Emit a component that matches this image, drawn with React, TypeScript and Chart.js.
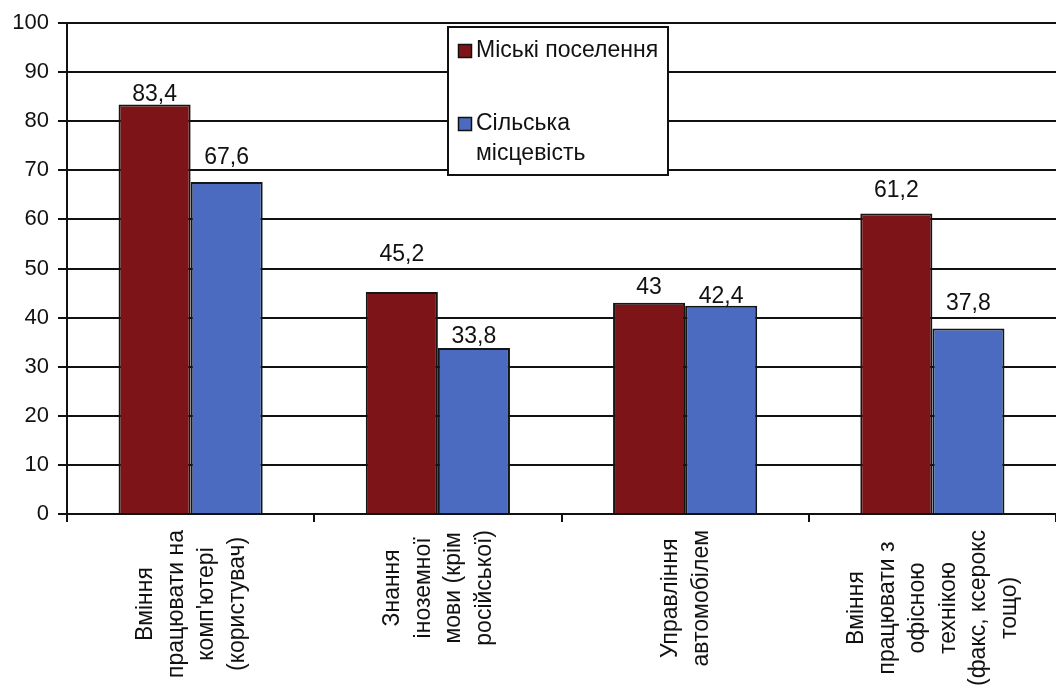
import React, { useEffect, useRef } from "react";
import { Chart, registerables } from "chart.js";

Chart.register(...registerables);

const categories: string[][] = [
  ["Вміння", "працювати на", "комп'ютері", "(користувач)"],
  ["Знання", "іноземної", "мови (крім", "російської)"],
  ["Управління", "автомобілем"],
  ["Вміння", "працювати з", "офісною", "технікою", "(факс, ксерокс", "тощо)"],
];
const seriesNames = ["Міські поселення", "Сільська місцевість"];
const urbanValues = [83.4, 45.2, 43, 61.2];
const ruralValues = [67.6, 33.8, 42.4, 37.8];
const yTicks = [0, 10, 20, 30, 40, 50, 60, 70, 80, 90, 100];

// label offset above bar top (px) — style only
const urbanLabelLift = [10, 37, 15, 23];
const ruralLabelLift = [24, 11, 9, 25];

const RED = "#7d1417";
const BLUE = "#4a6bbf";
const FONT = "'Liberation Sans', Arial, sans-serif";
const INK = "#111";

const fmt = (v: number) => String(v).replace(".", ",");

const overlayPlugin = {
  id: "overlay",
  afterDraw(chart: any) {
    const ctx: CanvasRenderingContext2D = chart.ctx;
    const xScale = chart.scales.x;
    const area = chart.chartArea;
    ctx.save();
    ctx.fillStyle = INK;

    // data labels
    ctx.font = `23px ${FONT}`;
    const lifts = [urbanLabelLift, ruralLabelLift];
    chart.data.datasets.forEach((ds: any, di: number) => {
      const meta = chart.getDatasetMeta(di);
      meta.data.forEach((el: any, i: number) => {
        ctx.textAlign = "center";
        ctx.textBaseline = "middle";
        ctx.fillText(fmt(ds.data[i]), el.x, el.y - lifts[di][i]);
      });
    });

    // category labels (rotated, centered lines)
    ctx.font = `23px ${FONT}`;
    const lineGap = 30.5;
    categories.forEach((lines, i) => {
      const cx0 = xScale.getPixelForValue(i);
      const maxW = Math.max(...lines.map((l) => ctx.measureText(l).width));
      const cy = area.bottom + 16 + maxW / 2;
      lines.forEach((line, j) => {
        const cx = cx0 + (j - (lines.length - 1) / 2) * lineGap + 1;
        ctx.save();
        ctx.translate(cx, cy);
        ctx.rotate(-Math.PI / 2);
        ctx.textAlign = "center";
        ctx.textBaseline = "middle";
        ctx.fillText(line, 0, 0);
        ctx.restore();
      });
    });

    // legend
    const lx = 448, ly = 27, lw = 220, lh = 148;
    ctx.fillStyle = "#fff";
    ctx.fillRect(lx, ly, lw, lh);
    ctx.strokeStyle = INK;
    ctx.lineWidth = 2;
    ctx.strokeRect(lx, ly, lw, lh);
    const items = [
      { color: RED, lines: [seriesNames[0]], y: 51 },
      { color: BLUE, lines: ["Сільська", "місцевість"], y: 124 },
    ];
    items.forEach((it) => {
      ctx.fillStyle = it.color;
      ctx.fillRect(lx + 10, it.y - 7, 14, 14);
      ctx.lineWidth = 1.5;
      ctx.strokeStyle = INK;
      ctx.strokeRect(lx + 10.5, it.y - 6.5, 13, 13);
      ctx.fillStyle = INK;
      ctx.textAlign = "left";
      ctx.textBaseline = "middle";
      it.lines.forEach((l, k) => ctx.fillText(l, lx + 28, it.y + k * 30));
    });
    ctx.restore();
  },
};

export default function App() {
  const ref = useRef<HTMLCanvasElement>(null);
  useEffect(() => {
    document.body.style.margin = "0";
    const chart = new Chart(ref.current!, {
      type: "bar",
      data: {
        labels: categories.map((c) => c.join(" ")),
        datasets: [
          {
            label: seriesNames[0],
            data: urbanValues,
            backgroundColor: RED,
            borderColor: "#151515",
            borderWidth: 2,
            categoryPercentage: 0.583,
            barPercentage: 1,
          },
          {
            label: seriesNames[1],
            data: ruralValues,
            backgroundColor: BLUE,
            borderColor: "#151515",
            borderWidth: 2,
            categoryPercentage: 0.583,
            barPercentage: 1,
          },
        ],
      },
      options: {
        responsive: false,
        animation: false,
        layout: { padding: { top: 23, right: 0, left: 0, bottom: 0 } },
        plugins: { legend: { display: false }, tooltip: { enabled: false } },
        scales: {
          x: {
            offset: true,
            grid: {
              display: true,
              drawOnChartArea: false,
              drawTicks: true,
              tickLength: 8,
              color: INK,
              lineWidth: 2,
              offset: true,
            },
            border: { display: true, color: INK, width: 2 },
            ticks: { display: false },
            afterFit: (s: any) => {
              s.height = 175;
            },
          },
          y: {
            min: 0,
            max: 100,
            afterBuildTicks: (s: any) => {
              s.ticks = yTicks.map((v) => ({ value: v }));
            },
            grid: { color: INK, lineWidth: 2, tickLength: 9, drawTicks: true },
            border: { display: true, color: INK, width: 2 },
            ticks: {
              color: INK,
              padding: 9,
              font: { family: FONT, size: 22 },
            },
            afterFit: (s: any) => {
              s.width = 67;
            },
          },
        },
      },
      plugins: [overlayPlugin],
    });
    return () => chart.destroy();
  }, []);
  return (
    <div style={{ position: "absolute", left: 0, top: 0, width: 1056, height: 689, background: "#fff" }}>
      <canvas ref={ref} width={1056} height={689} />
    </div>
  );
}
